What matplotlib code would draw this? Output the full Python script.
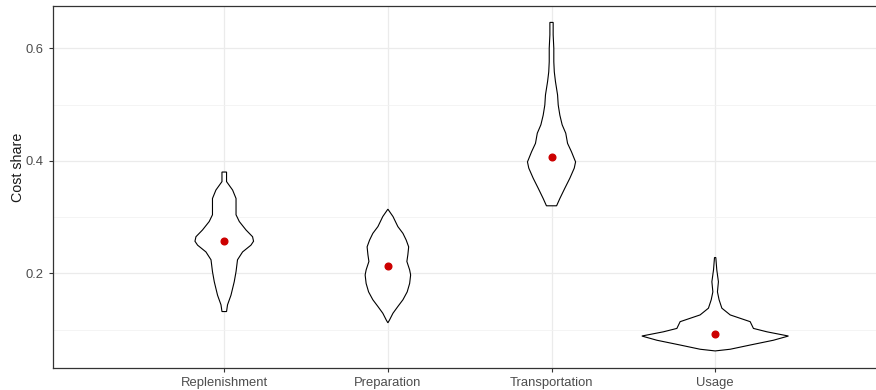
import matplotlib
matplotlib.use('Agg')
import matplotlib.pyplot as plt
import numpy as np

# 카테고리 / 평균값
categories = ['Replenishment', 'Preparation', 'Transportation', 'Usage']
means = [0.257, 0.213, 0.407, 0.092]

# violin 윤곽 (y 값, 반폭 - 카테고리 단위) : 그림에서 읽음
repl_y = [0.380, 0.363, 0.348, 0.333, 0.304, 0.292, 0.277, 0.265, 0.257, 0.250,
          0.238, 0.224, 0.203, 0.185, 0.161, 0.144, 0.132]
repl_w = [0.014, 0.014, 0.051, 0.072, 0.072, 0.092, 0.133, 0.173, 0.179, 0.163,
          0.112, 0.081, 0.072, 0.061, 0.041, 0.020, 0.014]

prep_y = [0.314, 0.301, 0.283, 0.271, 0.259, 0.247, 0.233, 0.221, 0.206, 0.197,
          0.182, 0.167, 0.153, 0.141, 0.129, 0.117, 0.112]
prep_w = [0.0, 0.031, 0.061, 0.092, 0.112, 0.127, 0.122, 0.116, 0.133, 0.139,
          0.133, 0.118, 0.092, 0.061, 0.031, 0.010, 0.0]

trans_y = [0.646, 0.624, 0.600, 0.576, 0.558, 0.541, 0.517, 0.499, 0.481, 0.464,
           0.449, 0.431, 0.416, 0.398, 0.387, 0.369, 0.351, 0.333, 0.320]
trans_w = [0.010, 0.010, 0.014, 0.014, 0.017, 0.024, 0.037, 0.041, 0.051, 0.065,
           0.087, 0.098, 0.122, 0.147, 0.139, 0.112, 0.081, 0.051, 0.031]

usage_y = [0.228, 0.206, 0.185, 0.167, 0.153, 0.138, 0.126, 0.120, 0.114, 0.102,
           0.096, 0.0885, 0.081, 0.0725, 0.065, 0.062]
usage_w = [0.004, 0.010, 0.020, 0.014, 0.024, 0.041, 0.092, 0.153, 0.214, 0.234,
           0.316, 0.448, 0.356, 0.214, 0.092, 0.0]

profiles = [(repl_y, repl_w), (prep_y, prep_w), (trans_y, trans_w), (usage_y, usage_w)]

y_ticks = [0.2, 0.4, 0.6]
y_minor = [0.1, 0.3, 0.5]

plt.rcParams['font.family'] = ['Liberation Sans', 'DejaVu Sans']

fig = plt.figure(figsize=(8.76, 3.90), dpi=100)
ax = fig.add_axes([0.0608, 0.0572, 0.9392, 0.9282])

positions = np.arange(1, len(categories) + 1)

for pos, (vy, vw) in zip(positions, profiles):
    vy = np.array(vy)
    vw = np.array(vw)
    xs = np.concatenate([pos - vw, (pos + vw)[::-1]])
    ys = np.concatenate([vy, vy[::-1]])
    ax.fill(xs, ys, facecolor='white', edgecolor='black', linewidth=0.8, zorder=2)

ax.plot(positions, means, 'o', color='#CC0000', markersize=4.8, zorder=3)

ax.set_xlim(-0.045, 4.983)
ax.set_ylim(0.0322, 0.6757)
ax.set_xticks(positions)
ax.set_xticklabels(categories)
ax.set_yticks(y_ticks)
ax.set_yticks(y_minor, minor=True)
ax.set_yticklabels([f"{v:.1f}" for v in y_ticks])

ax.grid(True, which='major', color='#EBEBEB', linewidth=0.9, zorder=0)
ax.grid(True, which='minor', axis='y', color='#F2F2F2', linewidth=0.6, zorder=0)
ax.set_axisbelow(True)

for side in ['left', 'bottom', 'top']:
    ax.spines[side].set_color('#333333')
    ax.spines[side].set_linewidth(0.9)
ax.spines['right'].set_visible(False)

ax.tick_params(which='major', length=3, width=0.8, color='#333333',
               labelcolor='#4D4D4D', labelsize=9.4)
ax.tick_params(axis='y', pad=4.3)
ax.tick_params(axis='x', pad=3.5)
ax.tick_params(which='minor', length=0)

fig.text(18 / 876, 1 - 167.5 / 390, 'Cost share', rotation=90, ha='center', va='center',
         fontsize=10.3, color='#1A1A1A')

plt.savefig('out.png', dpi=100)
